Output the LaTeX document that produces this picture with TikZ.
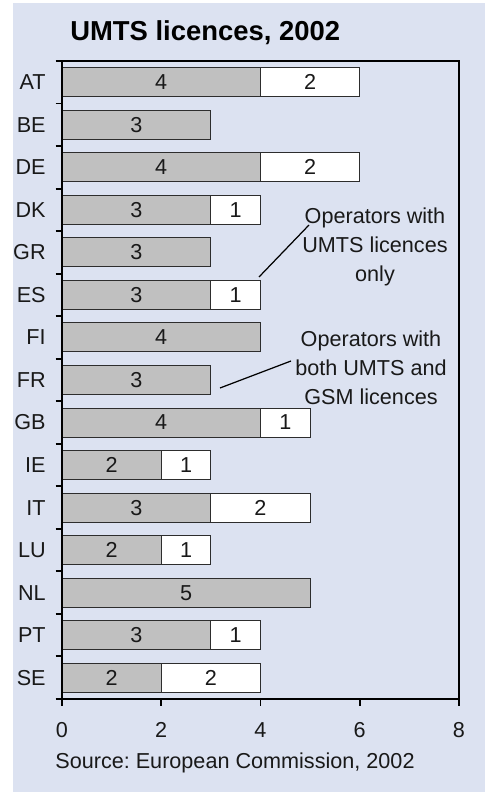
\documentclass[tikz,border=0pt]{standalone}
\usepackage{fontspec}
\setmainfont{Liberation Sans}
\usetikzlibrary{positioning}
\definecolor{ecPanel}{RGB}{220,226,241}
\definecolor{ecGray}{RGB}{192,192,192}
\definecolor{ecEdge}{RGB}{45,45,45}
\definecolor{ecText}{RGB}{25,25,25}
\frenchspacing

\tikzset{
  gsmbar/.style={fill=ecGray, draw=ecEdge, line width=0.6pt},
  umtsbar/.style={fill=white, draw=ecEdge, line width=0.6pt},
  axisline/.style={black, line width=1.1pt},
  chartfont/.style={font=\fontsize{12.3}{16.5}\selectfont, text=ecText, inner sep=0pt},
  notetext/.style={chartfont, align=center},
}

\begin{document}
\begin{tikzpicture}
  \useasboundingbox (-1.24,-1.86) rectangle (8.5,13.98);
  % panel
  \fill[ecPanel] (-0.98,-1.86) rectangle (8.46,13.92);

  % title
  \node[anchor=west, font=\bfseries\fontsize{15.6}{18}\selectfont, inner sep=0pt] (title) at (0.16,13.32) {UMTS licences, 2002};

  % bars: country / GSM+UMTS operators / UMTS-only operators
  \foreach \cc/\g/\u [count=\i] in {AT/4/2, BE/3/0, DE/4/2, DK/3/1, GR/3/0, ES/3/1, FI/4/0, FR/3/0,
                                     GB/4/1, IE/2/1, IT/3/2, LU/2/1, NL/5/0, PT/3/1, SE/2/2}{
    \pgfmathsetmacro{\yc}{12.76-(\i-0.5)*0.8507}
    \pgfmathsetmacro{\xg}{\g*0.9925}
    \pgfmathsetmacro{\xu}{(\g+\u)*0.9925}
    \node[chartfont, anchor=east] (c\cc) at (-0.32,\yc) {\cc};
    \draw[gsmbar] (0,{\yc-0.29}) rectangle (\xg,{\yc+0.29});
    \node[chartfont] (g\cc) at ({\xg/2},\yc) {\g};
    \ifnum\u>0
      \draw[umtsbar] (\xg,{\yc-0.29}) rectangle (\xu,{\yc+0.29});
      \node[chartfont] (u\cc) at ({(\xg+\xu)/2},\yc) {\u};
    \fi
  }

  % frame and ticks
  \draw[axisline] (0,0) rectangle (7.94,12.76);
  \foreach \k in {0,...,15}
    \draw[axisline] (-0.13,{\k*0.8507}) -- (0,{\k*0.8507});
  \foreach \v in {0,2,4,6,8}{
    \draw[axisline] ({\v*0.9925},0) -- ({\v*0.9925},-0.14);
    \node[chartfont] (x\v) at ({\v*0.9925},-0.62) {\v};
  }

  % notes
  \node[notetext] (onlyNote) at (6.26,9.04) {Operators with\\UMTS licences\\only};
  \node[notetext] (bothNote) at (6.18,6.62) {Operators with\\both UMTS and\\GSM licences};
  \coordinate (esTip) at (3.94,8.44);
  \coordinate (onlyTip) at (4.94,9.48);
  \coordinate (frTip) at (3.16,6.22);
  \coordinate (bothTip) at (4.58,6.76);
  \draw[black, line width=0.7pt] (esTip) -- (onlyTip);
  \draw[black, line width=0.7pt] (frTip) -- (bothTip);

  % source
  \node[chartfont, anchor=west] (source) at (-0.14,-1.28) {Source: European Commission, 2002};
\end{tikzpicture}
\end{document}
